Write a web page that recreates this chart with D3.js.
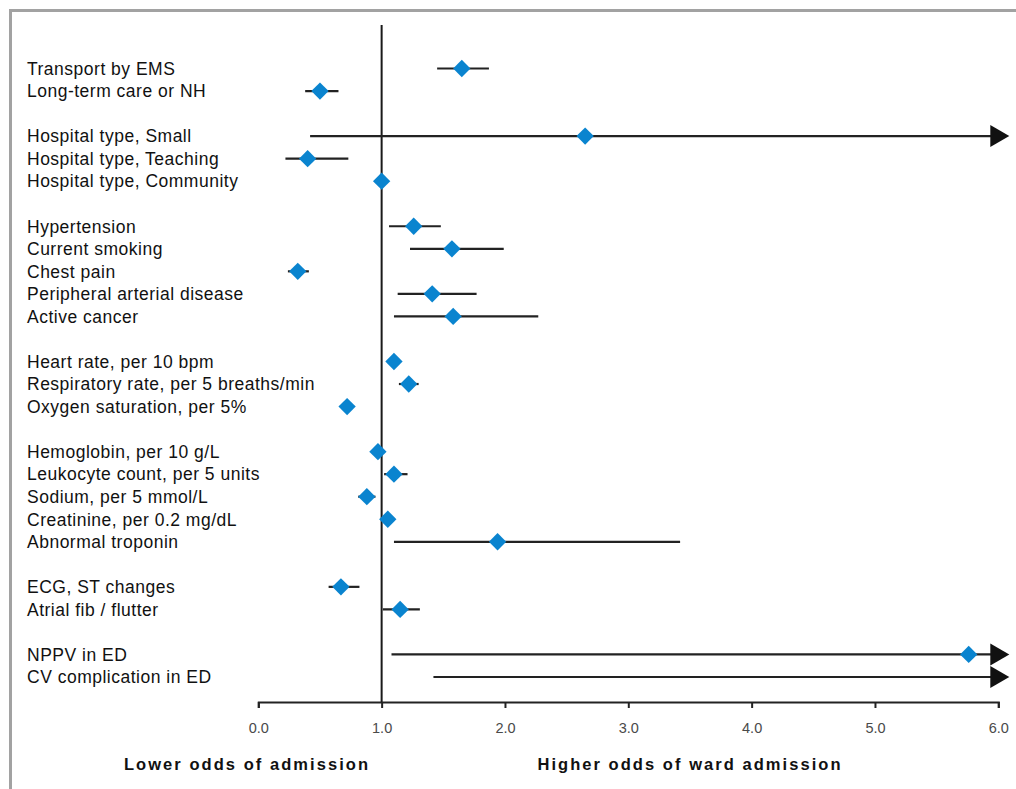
<!DOCTYPE html>
<html>
<head>
<meta charset="utf-8">
<script src="https://cdn.jsdelivr.net/npm/d3@7"></script>
<style>
    body { margin: 0; background: #fff; }
    #chart { width: 1016px; height: 789px; }
    text { font-family: "Liberation Sans", Arial, sans-serif; }
</style>
</head>
<body>
<div id="chart"></div>
<script>
    // groups of predictors (a blank row sits between groups)
    const groups = [
        ["Transport by EMS", "Long-term care or NH"],
        ["Hospital type, Small", "Hospital type, Teaching", "Hospital type, Community"],
        ["Hypertension", "Current smoking", "Chest pain", "Peripheral arterial disease", "Active cancer"],
        ["Heart rate, per 10 bpm", "Respiratory rate, per 5 breaths/min", "Oxygen saturation, per 5%"],
        ["Hemoglobin, per 10 g/L", "Leukocyte count, per 5 units", "Sodium, per 5 mmol/L", "Creatinine, per 0.2 mg/dL", "Abnormal troponin"],
        ["ECG, ST changes", "Atrial fib / flutter"],
        ["NPPV in ED", "CV complication in ED"]
    ];

    // odds ratios and 95% CI, in the same order; null = off the scale (arrow)
    const estimates = [1.65, 0.50, 2.65, 0.40, 1.00, 1.26, 1.57, 0.32, 1.41, 1.58, 1.10, 1.22, 0.72,
                       0.97, 1.10, 0.88, 1.05, 1.94, 0.67, 1.15, 5.76, null];
    const lower = [1.45, 0.38, 0.42, 0.22, 1.00, 1.06, 1.23, 0.24, 1.13, 1.10, 1.07, 1.14, 0.68,
                   0.94, 1.02, 0.81, 1.02, 1.10, 0.57, 1.01, 1.08, 1.42];
    const upper = [1.87, 0.65, null, 0.73, 1.00, 1.48, 1.99, 0.41, 1.77, 2.27, 1.13, 1.30, 0.76,
                   1.01, 1.21, 0.95, 1.09, 3.42, 0.82, 1.31, null, null];

    const xTicks = [0, 1, 2, 3, 4, 5, 6];

    let rows = [];
    let slot = 0;
    groups.forEach(g => {
        g.forEach(name => {
            let i = rows.length;
            rows.push({ name: name, slot: slot, est: estimates[i], lo: lower[i], hi: upper[i] });
            slot++;
        });
        slot++;
    });
    const lastSlot = slot - 2;

    const svg = d3.select("#chart").append("svg")
        .attr("width", 1016)
        .attr("height", 789);

    // frame
    svg.append("rect")
        .attr("x", 10.5)
        .attr("y", 10.5)
        .attr("width", 1100)
        .attr("height", 900)
        .attr("fill", "none")
        .attr("stroke", "#a2a2a2")
        .attr("stroke-width", 3);

    const xScale = d3.scaleLinear().domain([0, 6]).range([258.3, 998.3]);
    const yScale = d3.scaleLinear().domain([0, lastSlot]).range([68.5, 677]);
    const axisY = 702;

    // axis
    let axis = d3.axisBottom(xScale)
        .tickValues(xTicks)
        .tickFormat(d3.format(".1f"))
        .tickSize(6)
        .tickPadding(15);

    let gAxis = svg.append("g")
        .attr("transform", `translate(0,${axisY})`)
        .call(axis);
    gAxis.select(".domain").attr("stroke", "#222").attr("stroke-width", 2);
    gAxis.selectAll(".tick line").attr("stroke", "#222").attr("stroke-width", 2);
    gAxis.selectAll(".tick text")
        .attr("font-family", "'Liberation Sans', Arial, sans-serif")
        .attr("font-size", 14.5)
        .attr("fill", "#4a4a4a");

    // reference line at OR = 1
    svg.append("line")
        .attr("x1", xScale(1))
        .attr("x2", xScale(1))
        .attr("y1", 25)
        .attr("y2", axisY)
        .attr("stroke", "#1a1a1a")
        .attr("stroke-width", 2);

    // labels
    svg.append("g").selectAll("text")
        .data(rows)
        .join("text")
        .attr("x", 27)
        .attr("y", d => yScale(d.slot))
        .attr("dy", "0.36em")
        .attr("font-size", 17.5)
        .attr("letter-spacing", 0.5)
        .attr("fill", "#111")
        .text(d => d.name);

    const arrowTip = xScale(6) + 11;

    // CI lines
    svg.append("g").selectAll("line")
        .data(rows.filter(d => d.hi == null || d.hi > d.lo))
        .join("line")
        .attr("x1", d => xScale(d.lo))
        .attr("x2", d => d.hi == null ? arrowTip - 12 : xScale(d.hi))
        .attr("y1", d => yScale(d.slot))
        .attr("y2", d => yScale(d.slot))
        .attr("stroke", "#222")
        .attr("stroke-width", 2.2);

    // arrow heads for CIs running off the scale
    svg.append("g").selectAll("path")
        .data(rows.filter(d => d.hi == null))
        .join("path")
        .attr("d", d => {
            let y = yScale(d.slot);
            let p = d3.path();
            p.moveTo(arrowTip - 19, y - 11);
            p.lineTo(arrowTip, y);
            p.lineTo(arrowTip - 19, y + 11);
            p.closePath();
            return p.toString();
        })
        .attr("fill", "#111");

    // point estimates
    svg.append("g").selectAll("path")
        .data(rows.filter(d => d.est != null))
        .join("path")
        .attr("d", d3.symbol(d3.symbolSquare, 150))
        .attr("transform", d => `translate(${xScale(d.est)},${yScale(d.slot)}) rotate(45)`)
        .attr("fill", "#0a84cf");

    // bottom captions
    svg.append("text")
        .attr("x", 247)
        .attr("y", 770)
        .attr("text-anchor", "middle")
        .attr("font-size", 16.5)
        .attr("font-weight", "bold")
        .attr("letter-spacing", 2.05)
        .attr("fill", "#111")
        .text("Lower odds of admission");

    svg.append("text")
        .attr("x", 690)
        .attr("y", 770)
        .attr("text-anchor", "middle")
        .attr("font-size", 16.5)
        .attr("font-weight", "bold")
        .attr("letter-spacing", 2.05)
        .attr("fill", "#111")
        .text("Higher odds of ward admission");
</script>
</body>
</html>
